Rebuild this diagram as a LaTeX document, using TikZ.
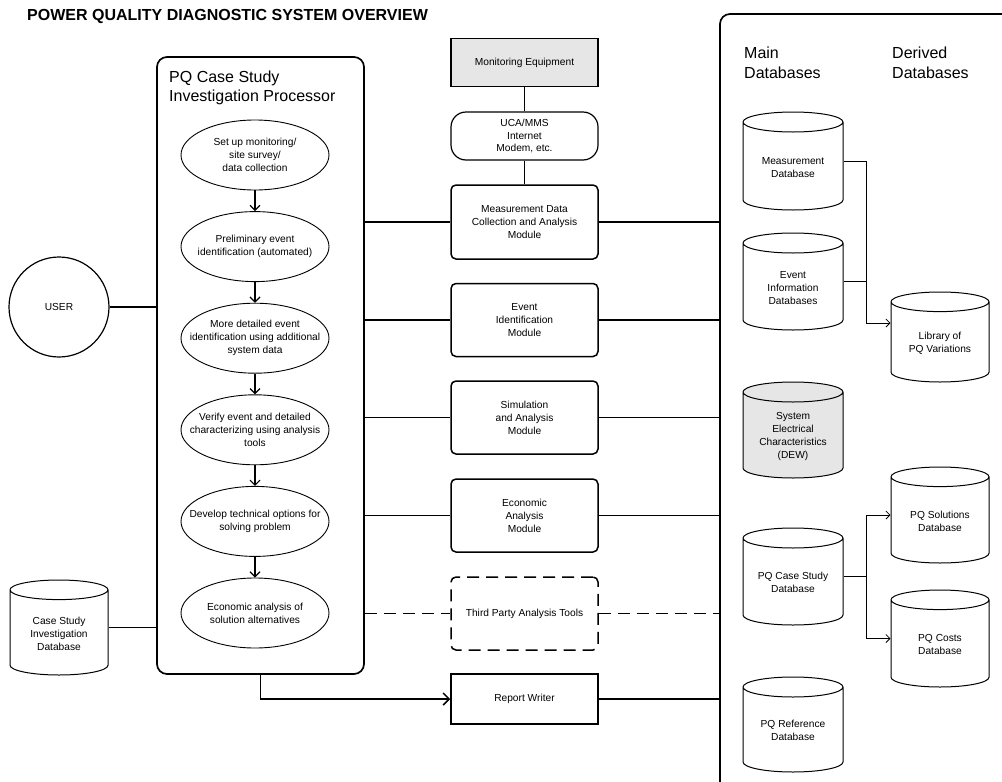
\documentclass[tikz,border=0pt]{standalone}
\usepackage{fontspec}
\setmainfont{Liberation Sans}
\usetikzlibrary{shapes.geometric,arrows.meta,calc}
\definecolor{boxgray}{HTML}{E6E6E6}
\begin{document}
\begin{tikzpicture}[x=1pt,y=-1pt,
  small/.style={font=\fontsize{10.2}{12.9}\selectfont, align=center},
  head/.style={font=\fontsize{16}{19.5}\selectfont, align=left, anchor=north west, inner sep=0pt},
  stage/.style={small, draw, ellipse, line width=0.9pt, minimum width=148pt, minimum height=70pt, inner xsep=-20pt, inner ysep=0pt},
  module/.style={small, draw, rounded corners=5pt, line width=1.5pt, minimum width=147pt, minimum height=73pt},
  db/.style={draw, cylinder, shape border rotate=90, aspect=0.2, line width=1pt, inner xsep=50pt, inner ysep=0pt, minimum height=97pt,
    anchor=shape center, label={[small, yshift=4pt]center:#1}},
  link/.style={line width=1.5pt},
  flow/.style={line width=1.2pt, -{Straight Barb[length=5pt,width=10pt]}},
  derive/.style={line width=0.8pt, -{Straight Barb[length=4pt,width=8pt]}}
]
\useasboundingbox (0,0) rectangle (1002,782);

\node[anchor=base west, inner sep=0pt, font=\bfseries\fontsize{16}{19}\selectfont] (title) at (27,20.7) {POWER QUALITY DIAGNOSTIC SYSTEM OVERVIEW};

% case study processor
\node[draw, rounded corners=10pt, line width=1.7pt, minimum width=207pt, minimum height=617pt, inner sep=0pt] (proc) at (260.5,365.5) {};
\node[head] (prochead) at (169,70.5) {PQ Case Study\\Investigation Processor};
\node[stage] (s1) at (255,155) {Set up monitoring/\\site survey/\\data collection};
\node[stage] (s2) at (255,246.6) {Preliminary event\\identification (automated)};
\node[stage] (s3) at (255,338.2) {More detailed event\\identification using additional\\system data};
\node[stage] (s4) at (255,429.8) {Verify event and detailed\\characterizing using analysis\\tools};
\node[stage] (s5) at (255,521.4) {Develop technical options for\\solving problem};
\node[stage] (s6) at (255,613) {Economic analysis of\\solution alternatives};
\foreach \a/\b in {s1/s2,s2/s3,s3/s4,s4/s5,s5/s6}
  \draw[flow] (\a) -- (\b);

\node[draw, circle, small, line width=1.2pt, minimum size=100pt, inner sep=0pt] (user) at (59,307) {USER};
\node[db={Case Study\\Investigation\\Database}, inner xsep=49pt, minimum height=95pt] (casedb) at (59,627.5) {};
\draw[link] (user) -- (user -| proc.west);
\draw[link] (casedb.shape center -| casedb.east) -- (casedb.shape center -| proc.west);

% modules
\node[draw, fill=boxgray, small, line width=1.2pt, minimum width=147pt, minimum height=48pt] (equip) at (524.5,62.5) {Monitoring Equipment};
\node[draw, small, rounded corners=15pt, line width=1.2pt, minimum width=147pt, minimum height=48pt] (comm) at (524.5,136) {UCA/MMS\\Internet\\Modem, etc.};
\node[module, minimum height=74pt] (meas) at (524.5,222) {Measurement Data\\Collection and Analysis\\Module};
\node[module] (event) at (524.5,320) {Event\\Identification\\Module};
\node[module] (sim) at (524.5,417.5) {Simulation\\and Analysis\\Module};
\node[module] (econ) at (524.5,515.5) {Economic\\Analysis\\Module};
\node[module, dash pattern=on 12pt off 7pt] (third) at (524.5,613.5) {Third Party Analysis Tools};
\node[draw, small, line width=1.5pt, minimum width=147pt, minimum height=50pt] (report) at (524.5,699) {Report Writer};

% databases panel
\coordinate (panel) at (720,0);
\draw[line width=1.7pt, rounded corners=10pt] (1002,14) -- (720,14) -- (720,782);
\node[head] (mainhead) at (744,47) {Main\\Databases};
\node[head] (derivhead) at (892,47) {Derived\\Databases};

\draw[link] (equip) -- (comm);
\draw[link] (comm) -- (meas);
\foreach \m in {meas,event,sim,econ} {
  \draw[link] (proc.east |- \m.west) -- (\m.west);
  \draw[link] (\m.east) -- (\m.east -| panel);
}
\draw[link, dash pattern=on 12pt off 7pt] (proc.east |- third.west) -- (third.west);
\draw[link, dash pattern=on 12pt off 7pt] (third.east) -- (third.east -| panel);
\draw[link, -{Straight Barb[length=6pt,width=12pt]}] (proc.south) |- (report.west);
\draw[link] (report.east) -- (report.east -| panel);

\node[db={Measurement\\Database}, minimum height=98pt] (measdb) at (793,161) {};
\node[db={Event\\Information\\Databases}] (evdb) at (793,281.5) {};
\node[db={System\\Electrical\\Characteristics\\(DEW)}, fill=boxgray, minimum height=96pt] (sysdb) at (793,430) {};
\node[db={PQ Case Study\\Database}] (casestudydb) at (793,576.5) {};
\node[db={PQ Reference\\Database}, minimum height=95pt] (refdb) at (793,724.5) {};
\node[db={Library of\\PQ Variations}, inner xsep=49pt, minimum height=90pt] (libdb) at (940,337) {};
\node[db={PQ Solutions\\Database}, inner xsep=49pt, minimum height=96pt] (soldb) at (940,515) {};
\node[db={PQ Costs\\Database}, inner xsep=49pt] (costdb) at (940,638.5) {};

\coordinate (split) at (866,0);
\coordinate (libin) at ($(libdb.shape center -| libdb.west)+(0,-14)$);
\draw[derive] (measdb.shape center -| measdb.east) -- (measdb.shape center -| split) |- (libin);
\draw[line width=0.8pt] (evdb.shape center -| evdb.east) -- (evdb.shape center -| split);
\draw[derive] (casestudydb.shape center -| casestudydb.east) -- (casestudydb.shape center -| split) |- (soldb.shape center -| soldb.west);
\draw[derive] (casestudydb.shape center -| split) |- (costdb.shape center -| costdb.west);
\end{tikzpicture}
\end{document}
